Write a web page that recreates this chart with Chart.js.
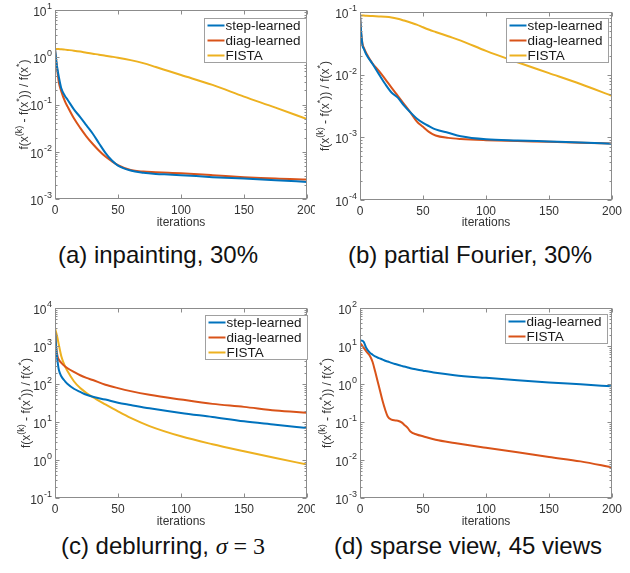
<!DOCTYPE html>
<html>
<head>
<meta charset="utf-8">
<script src="https://cdn.jsdelivr.net/npm/chart.js@4.4.1/dist/chart.umd.min.js"></script>
<style>
  body { margin: 0; background: #fff; width: 630px; height: 573px; position: relative; overflow: hidden; font-family: "Liberation Sans", Arial, sans-serif; }
  canvas { position: absolute; }
  .cap { position: absolute; font-size: 24px; color: #111; white-space: nowrap; text-align: center; line-height: 28px; width: 400px; }
  .math { font-family: "Liberation Serif", "DejaVu Serif", serif; }
</style>
</head>
<body>
<canvas id="ca" width="315" height="230" style="left:0;top:0"></canvas>
<canvas id="cb" width="315" height="230" style="left:315px;top:0"></canvas>
<canvas id="cc" width="315" height="240" style="left:0;top:290px"></canvas>
<canvas id="cd" width="315" height="240" style="left:315px;top:290px"></canvas>

<div class="cap" style="left:-42px;top:241px">(a) inpainting, 30%</div>
<div class="cap" style="left:270px;top:241px">(b) partial Fourier, 30%</div>
<div class="cap" style="left:-37px;top:532px">(c) deblurring, <span class="math"><i>σ</i> = 3</span></div>
<div class="cap" style="left:268px;top:532px">(d) sparse view, 45 views</div>

<script>
// (a) inpainting
const iterA = [0, 1, 2, 3, 5, 8, 10, 15, 20, 25, 30, 35, 40, 45, 50, 60, 70, 80, 90, 100, 125, 150, 175, 200];
const stepA = [1.5, 0.85, 0.55, 0.39, 0.22, 0.15, 0.126, 0.079, 0.054, 0.036, 0.024, 0.015, 0.0095, 0.0066, 0.0051, 0.004, 0.0036, 0.0034, 0.0033, 0.0032, 0.0029, 0.0027, 0.0025, 0.0023];
const diagA = [1.5, 0.8, 0.48, 0.30, 0.19, 0.115, 0.09, 0.051, 0.032, 0.021, 0.0146, 0.0105, 0.0079, 0.0063, 0.0052, 0.0041, 0.0038, 0.0037, 0.0036, 0.0035, 0.0032, 0.0029, 0.0027, 0.0026];
const fistaA = [1.5, 1.5, 1.5, 1.49, 1.48, 1.45, 1.43, 1.38, 1.32, 1.25, 1.19, 1.13, 1.08, 1.03, 0.98, 0.87, 0.75, 0.62, 0.51, 0.42, 0.26, 0.147, 0.086, 0.049];

// (b) partial Fourier
const iterB = [0, 1, 2, 3, 5, 10, 15, 20, 25, 30, 35, 40, 45, 50, 55, 60, 70, 80, 100, 125, 150, 175, 200];
const stepB = [0.088, 0.045, 0.029, 0.026, 0.021, 0.0148, 0.0102, 0.0071, 0.0052, 0.0043, 0.0032, 0.0025, 0.0020, 0.0017, 0.0015, 0.00134, 0.00118, 0.00104, 0.00093, 0.00089, 0.00086, 0.00083, 0.00079];
const diagB = [0.088, 0.045, 0.031, 0.027, 0.022, 0.015, 0.0115, 0.0085, 0.0062, 0.0046, 0.0034, 0.0025, 0.0018, 0.00147, 0.00121, 0.00107, 0.00098, 0.00094, 0.0009, 0.00087, 0.00085, 0.00082, 0.0008];
const fistaB = [0.088, 0.088, 0.088, 0.088, 0.087, 0.086, 0.085, 0.084, 0.082, 0.078, 0.073, 0.068, 0.063, 0.057, 0.052, 0.048, 0.041, 0.035, 0.024, 0.0158, 0.0106, 0.0071, 0.0046];

// (c) deblurring
const iterC = [0, 1, 2, 3, 5, 8, 10, 15, 20, 25, 30, 40, 50, 60, 75, 100, 125, 150, 175, 200];
const stepC = [2500, 800, 400, 240, 160, 118, 100, 75, 62, 52, 46, 39, 32, 28, 23, 17.3, 13.5, 10.4, 8.5, 6.9];
const diagC = [2500, 900, 540, 440, 360, 290, 260, 208, 170, 145, 127, 96, 78, 65, 52, 39, 30, 25, 20, 17.5];
const fistaC = [2960, 2200, 1600, 1100, 540, 290, 215, 118, 78, 58, 45, 29, 19, 12.8, 7.8, 4.2, 2.6, 1.7, 1.13, 0.76];

// (d) sparse view
const iterD = [0, 1, 2, 3, 5, 8, 10, 12, 15, 18, 20, 22, 25, 28, 30, 33, 35, 38, 40, 45, 50, 60, 75, 100, 125, 150, 175, 200];
const diagD = [13.7, 13.9, 13.7, 12.8, 8.9, 6.6, 5.9, 5.3, 4.8, 4.4, 4.1, 3.9, 3.6, 3.35, 3.2, 3.0, 2.9, 2.72, 2.6, 2.4, 2.24, 1.97, 1.7, 1.45, 1.25, 1.1, 0.98, 0.87];
const fistaD = [12, 11, 10, 8.9, 7.2, 5.4, 3.8, 2.15, 0.87, 0.35, 0.21, 0.14, 0.115, 0.11, 0.108, 0.098, 0.085, 0.069, 0.056, 0.047, 0.042, 0.034, 0.028, 0.021, 0.016, 0.012, 0.0092, 0.0064];

const xTicks = [0, 50, 100, 150, 200];

const blue = '#0072BD', orange = '#D95319', yellow = '#EDB120';
const axisGrey = '#8c8c8c', textGrey = '#333';
const FAM = '"Liberation Sans", Arial, sans-serif';

// y label pieces: [text, superscript?]
const yTitle = [['f(x', false], ['(k)', true], [' - f(x', false], ['*', true], [')) / f(x', false], ['*', true], [')', false]];

const matlabLook = {
  id: 'matlabLook',
  afterDraw(chart) {
    const o = chart.options.plugins.matlabLook;
    const ctx = chart.ctx, a = chart.chartArea;
    const xs = chart.scales.x, ys = chart.scales.y;
    const L = Math.round(a.left) + 0.5, R = Math.round(a.right) - 0.5;
    const T = Math.round(a.top) + 0.5, B = Math.round(a.bottom) - 0.5;
    ctx.save();

    // box + inward ticks
    ctx.strokeStyle = axisGrey;
    ctx.lineWidth = 1;
    ctx.strokeRect(L, T, R - L, B - T);
    ctx.beginPath();
    const e0 = Math.round(Math.log10(ys.min)), e1 = Math.round(Math.log10(ys.max));
    for (let e = e0; e < e1; e++) {
      for (let m = 1; m < 10; m++) {
        const py = Math.round(ys.getPixelForValue(m * Math.pow(10, e))) + 0.5;
        const len = m === 1 ? 4 : 2;
        ctx.moveTo(L, py); ctx.lineTo(L + len, py);
        ctx.moveTo(R, py); ctx.lineTo(R - len, py);
      }
    }
    xs.ticks.forEach(t => {
      const px = Math.round(xs.getPixelForValue(t.value)) + 0.5;
      ctx.moveTo(px, B); ctx.lineTo(px, B - 4);
      ctx.moveTo(px, T); ctx.lineTo(px, T + 4);
    });
    ctx.stroke();

    // y tick labels 10^e
    ctx.fillStyle = textGrey;
    ctx.textBaseline = 'middle';
    ys.ticks.forEach(t => {
      const py = ys.getPixelForValue(t.value);
      const ex = String(Math.round(Math.log10(t.value)));
      ctx.font = '9px ' + FAM;
      const we = ctx.measureText(ex).width;
      const right = a.left - 3;
      ctx.textAlign = 'left';
      ctx.fillText(ex, right - we, py - 3.5);
      ctx.font = '12px ' + FAM;
      ctx.textAlign = 'right';
      ctx.fillText('10', right - we - 0.5, py + 2.5);
    });

    // rotated y title with superscripts
    const big = '12px ' + FAM, small = '9px ' + FAM;
    let total = 0;
    yTitle.forEach(([s, sup]) => { ctx.font = sup ? small : big; total += ctx.measureText(s).width; });
    ctx.translate(o.titleX, (a.top + a.bottom) / 2);
    ctx.rotate(-Math.PI / 2);
    ctx.textAlign = 'left';
    let x = -total / 2;
    yTitle.forEach(([s, sup]) => {
      ctx.font = sup ? small : big;
      ctx.fillText(s, x, sup ? -3.5 : 2);
      x += ctx.measureText(s).width;
    });
    ctx.setTransform(1, 0, 0, 1, 0, 0);

    // legend box
    const ds = chart.data.datasets;
    ctx.font = '13.5px ' + FAM;
    let tw = 0;
    ds.forEach(d => { tw = Math.max(tw, ctx.measureText(d.label).width); });
    const bw = Math.round(3 + 17 + 1 + tw + 6), bh = 15 * ds.length - 1;
    const bx = Math.round(a.right - o.legRight - bw) + 0.5, by = Math.round(a.top + o.legTop) + 0.5;
    ctx.fillStyle = '#fff';
    ctx.fillRect(bx, by, bw, bh);
    ctx.strokeStyle = '#a0a0a0';
    ctx.strokeRect(bx, by, bw, bh);
    ds.forEach((d, i) => {
      const cy = by + 7 + 15 * i;
      ctx.strokeStyle = d.borderColor;
      ctx.lineWidth = 2;
      ctx.beginPath();
      ctx.moveTo(bx + 3, cy); ctx.lineTo(bx + 20, cy);
      ctx.stroke();
      ctx.fillStyle = '#1a1a1a';
      ctx.textAlign = 'left';
      ctx.textBaseline = 'middle';
      ctx.fillText(d.label, bx + 21, cy + 0.5);
    });
    ctx.restore();
  }
};

function makeChart(id, iters, series, yMin, yMax, box) {
  const datasets = series.map(s => ({
    label: s.label,
    data: iters.map((it, i) => ({ x: it, y: s.values[i] })),
    borderColor: s.color,
    borderWidth: 2,
    pointRadius: 0,
    fill: false,
    cubicInterpolationMode: 'monotone'
  }));
  return new Chart(document.getElementById(id), {
    type: 'line',
    data: { datasets },
    plugins: [matlabLook],
    options: {
      responsive: false,
      animation: false,
      devicePixelRatio: 1,
      layout: { padding: { top: box.top, right: box.right, left: 0, bottom: 0 } },
      plugins: {
        legend: { display: false },
        tooltip: { enabled: false },
        matlabLook: { titleX: box.titleX, legRight: box.legRight, legTop: box.legTop }
      },
      scales: {
        x: {
          type: 'linear', min: 0, max: 200,
          afterBuildTicks: sc => { sc.ticks = xTicks.map(v => ({ value: v })); },
          ticks: { color: textGrey, font: { size: 12, family: FAM }, padding: 4, maxRotation: 0 },
          grid: { display: false, drawTicks: false },
          border: { display: false },
          title: { display: true, text: 'iterations', color: textGrey, padding: { top: 0, bottom: box.titlePad },
                   font: { size: 12, family: FAM } },
          afterFit: sc => { sc.height = box.xH; sc.paddingLeft = 0; sc.paddingRight = 0; }
        },
        y: {
          type: 'logarithmic', min: yMin, max: yMax,
          afterBuildTicks: sc => {
            const t = [];
            for (let e = Math.round(Math.log10(yMin)); e <= Math.round(Math.log10(yMax)); e++) t.push({ value: Math.pow(10, e) });
            sc.ticks = t;
          },
          ticks: { display: false },
          grid: { display: false, drawTicks: false },
          border: { display: false },
          afterFit: sc => { sc.width = box.yW; }
        }
      }
    }
  });
}

makeChart('ca', iterA, [
  { label: 'step-learned', values: stepA, color: blue },
  { label: 'diag-learned', values: diagA, color: orange },
  { label: 'FISTA', values: fistaA, color: yellow }
], 1e-3, 1e1, { top: 10, right: 8, yW: 55, xH: 31, titlePad: 0, titleX: 23, legRight: 1, legTop: 8 });

makeChart('cb', iterB, [
  { label: 'step-learned', values: stepB, color: blue },
  { label: 'diag-learned', values: diagB, color: orange },
  { label: 'FISTA', values: fistaB, color: yellow }
], 1e-4, 1e-1, { top: 12, right: 18, yW: 45, xH: 30, titlePad: 0, titleX: 9, legRight: 4, legTop: 6 });

makeChart('cc', iterC, [
  { label: 'step-learned', values: stepC, color: blue },
  { label: 'diag-learned', values: diagC, color: orange },
  { label: 'FISTA', values: fistaC, color: yellow }
], 1e-1, 1e4, { top: 18, right: 8, yW: 55, xH: 32, titlePad: 1, titleX: 25, legRight: 0, legTop: 7 });

makeChart('cd', iterD, [
  { label: 'diag-learned', values: diagD, color: blue },
  { label: 'FISTA', values: fistaD, color: orange }
], 1e-3, 1e2, { top: 18, right: 18, yW: 45, xH: 32, titlePad: 1, titleX: 11, legRight: 5, legTop: 6 });
</script>
</body>
</html>
